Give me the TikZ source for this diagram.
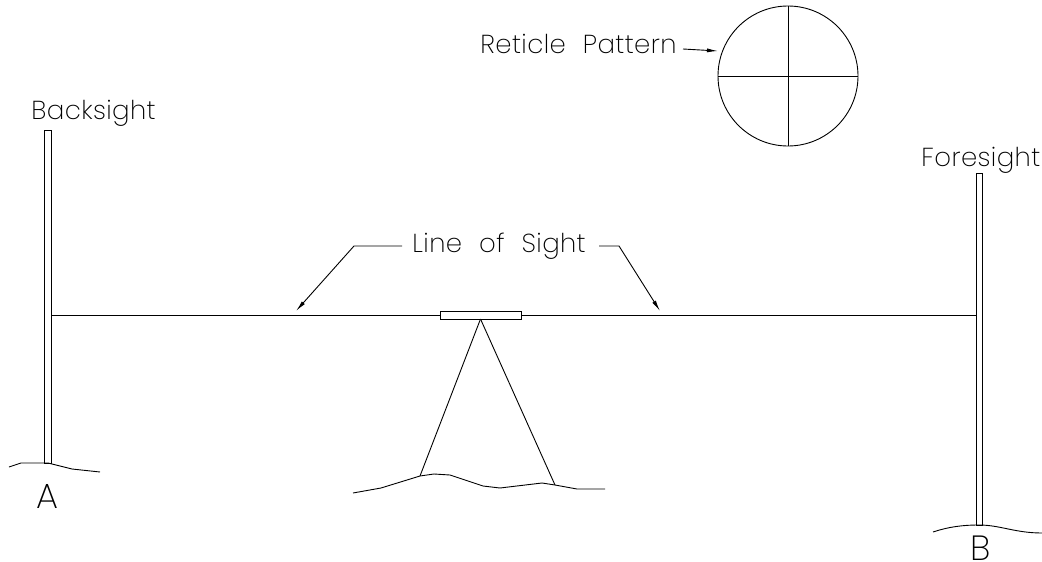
\documentclass[tikz,border=0pt]{standalone}
\usepackage{fontspec}
\setmainfont{Poppins}[UprightFont=* ExtraLight,LetterSpace=1.5,WordSpace=2.2]
\usepackage{tikz}
\usetikzlibrary{arrows.meta,positioning}

\begin{document}
\begin{tikzpicture}[
    x=1pt, y=-1pt,
    line width=0.9pt,
    lbl/.style={inner sep=0pt, anchor=base west, font=\fontsize{26}{26}\selectfont},
    bigl/.style={inner sep=0pt, anchor=base, font=\fontsize{35}{35}\selectfont},
    staff/.style={draw, minimum width=6.5pt, inner sep=0pt, outer sep=0pt},
    arr/.style={-{Latex[length=11pt,width=4pt]}}
]
\useasboundingbox (0,0) rectangle (1042,562);

% rods
\node[staff, minimum height=333pt] (backrod) at (48,296.5) {};
\node[staff, minimum height=352pt] (forerod) at (979.5,349) {};
\node[lbl] (backlbl) at (31,119) {Backsight};
\node[lbl] (forelbl) at (921,166) {Foresight};
\node[bigl] (pta) at (47.5,508) {A};
\node[bigl] (ptb) at (981,560) {B};

% level
\node[draw, minimum width=81pt, minimum height=8pt, inner sep=0pt, outer sep=0pt] (level) at (480.5,315) {};
\draw (backrod.east |- level) -- (level);
\draw (level) -- (forerod.west |- level);
\draw (level.south) -- (420,476);
\draw (level.south) -- (555,485);

% ground
\draw (9,467) -- (21,463) -- (48,463) -- (72,469) -- (100,472);
\draw (353,493) -- (381,488) -- (420,476) -- (434,474) -- (450,475) -- (483,486) -- (500,488) -- (542,483) -- (555,485) -- (577,489) -- (605,489);
\draw (933,532) .. controls (948,527) and (962,525) .. (979,525) .. controls (1000,525) and (1015,533) .. (1042,533);

% sight label
\node[lbl] (sight) at (412,252) {Line of Sight};
\coordinate (leftstart) at (402,246);
\coordinate (leftend) at (296,311);
\coordinate (rightstart) at (599,246);
\coordinate (rightend) at (660,311);
\draw[arr] (leftstart) -- (354,246) -- (leftend);
\draw[arr] (rightstart) -- (619,246) -- (rightend);

% reticle
\node[draw, circle, minimum size=140pt, inner sep=0pt, outer sep=0pt] (reticle) at (788,76) {};
\draw (reticle.west) -- (reticle.east);
\draw (reticle.north) -- (reticle.south);
\node[lbl] (retlbl) at (480,53) {Reticle Pattern};
\coordinate (rettip) at (718,51);
\draw[arr] (683,49) -- (rettip);

\end{tikzpicture}
\end{document}
